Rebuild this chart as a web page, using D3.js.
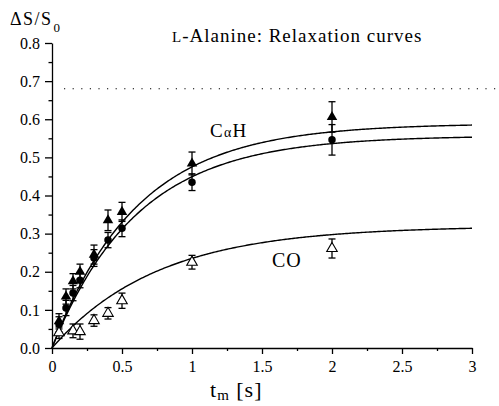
<!DOCTYPE html>
<html><head><meta charset="utf-8">
<script src="https://cdn.jsdelivr.net/npm/d3@7"></script>
<style>body{margin:0;background:#fff}svg{display:block}</style>
</head><body><svg id="c" width="499" height="406"></svg>
<script>
// Data
const times = [0.05, 0.1, 0.15, 0.2, 0.3, 0.4, 0.5, 1, 2];
const cahTri = [0.07, 0.135, 0.175, 0.2, 0.245, 0.335, 0.357, 0.484, 0.606];
const cahTriErr = [0.02, 0.02, 0.02, 0.02, 0.025, 0.027, 0.025, 0.03, 0.04];
const cahCirc = [0.062, 0.105, 0.144, 0.178, 0.236, 0.283, 0.314, 0.435, 0.546];
const cahCircErr = [0.02, 0.02, 0.02, 0.02, 0.022, 0.02, 0.022, 0.022, 0.04];
const coTimes = [0.05, 0.15, 0.2, 0.3, 0.4, 0.5, 1, 2];
const coTri = [0.04, 0.045, 0.043, 0.072, 0.091, 0.124, 0.225, 0.261];
const coTriErr = [0.015, 0.018, 0.02, 0.015, 0.015, 0.02, 0.018, 0.025];
// fitted curves y = A (1 - exp(-t/T))
const fitAmp = [0.589, 0.557, 0.32];
const fitT1 = [0.609, 0.609, 0.754];
const limitValue = 0.68;
const xTicks = [0, 0.5, 1, 1.5, 2, 2.5, 3];
const yTicks = [0, 0.1, 0.2, 0.3, 0.4, 0.5, 0.6, 0.7, 0.8];

const FONT = "'Liberation Serif', 'DejaVu Serif', serif";
const svg = d3.select("#c");
const x = d3.scaleLinear().domain([0, 3]).range([52, 472]);
const y = d3.scaleLinear().domain([0, 0.8]).range([348, 43]);

// dotted limit line
svg.append("line").attr("x1", 64).attr("x2", 497).attr("y1", y(limitValue)).attr("y2", y(limitValue))
  .attr("stroke", "#000").attr("stroke-width", 1.1).attr("stroke-dasharray", "1.2,7.4");

// axes
const fmtY = d3.format(".1f");
const fmtX = d => String(d);
const gx = svg.append("g").attr("transform", `translate(0,${y(0)})`)
  .call(d3.axisBottom(x).tickValues(xTicks).tickFormat(fmtX).tickSize(6).tickSizeOuter(0));
const gxm = svg.append("g").attr("transform", `translate(0,${y(0)})`)
  .call(d3.axisBottom(x).tickValues(d3.range(0.25, 3, 0.5)).tickFormat("").tickSize(3).tickSizeOuter(0));
gxm.select(".domain").remove();
const gy = svg.append("g").attr("transform", `translate(${x(0)},0)`)
  .call(d3.axisLeft(y).tickValues(yTicks).tickFormat(fmtY).tickSize(7).tickSizeOuter(0));
const gym = svg.append("g").attr("transform", `translate(${x(0)},0)`)
  .call(d3.axisLeft(y).tickValues(d3.range(0.05, 0.8, 0.1)).tickFormat("").tickSize(3.5).tickSizeOuter(0));
gym.select(".domain").remove();
[gx, gy, gxm, gym].forEach(g => {
  g.attr("font-family", null).attr("font-size", null);
  g.selectAll("path,line").attr("stroke", "#000").attr("stroke-width", 1.3);
  g.selectAll("text").style("font-family", FONT).style("font-size", "16px").attr("fill", "#000");
});
gx.selectAll("text").attr("dy", "0.95em");
gy.selectAll("text").attr("dx", "-2px");

// curves
const ts = d3.range(0, 3.0001, 0.01);
fitAmp.forEach((A, i) => {
  const T = fitT1[i];
  svg.append("path").datum(ts)
    .attr("d", d3.line().x(t => x(t)).y(t => y(A * (1 - Math.exp(-t / T)))))
    .attr("fill", "none").attr("stroke", "#000").attr("stroke-width", 1.4);
});

// error bars
function errBars(xs, ys, es) {
  xs.forEach((t, i) => {
    const g = svg.append("g").attr("stroke", "#000").attr("stroke-width", 1.3);
    const cx = x(t), y1 = y(ys[i] + es[i]), y2 = y(ys[i] - es[i]);
    g.append("line").attr("x1", cx).attr("x2", cx).attr("y1", y1).attr("y2", y2);
    g.append("line").attr("x1", cx - 3.5).attr("x2", cx + 3.5).attr("y1", y1).attr("y2", y1);
    g.append("line").attr("x1", cx - 3.5).attr("x2", cx + 3.5).attr("y1", y2).attr("y2", y2);
  });
}
errBars(times, cahTri, cahTriErr);
errBars(times, cahCirc, cahCircErr);
errBars(coTimes, coTri, coTriErr);

const tri = d3.symbol().type(d3.symbolTriangle).size(48);
const circ = d3.symbol().type(d3.symbolCircle).size(44);
svg.append("g").selectAll("path").data(times).join("path")
  .attr("d", tri).attr("transform", (t, i) => `translate(${x(t)},${y(cahTri[i])})`).attr("fill", "#000");
svg.append("g").selectAll("path").data(times).join("path")
  .attr("d", circ).attr("transform", (t, i) => `translate(${x(t)},${y(cahCirc[i])})`).attr("fill", "#000");
svg.append("g").selectAll("path").data(coTimes).join("path")
  .attr("d", tri).attr("transform", (t, i) => `translate(${x(t)},${y(coTri[i])})`)
  .attr("fill", "#fff").attr("stroke", "#000").attr("stroke-width", 1.1);

// labels
function label(px, py, size, ls) {
  return svg.append("text").attr("x", px).attr("y", py)
    .style("font-family", FONT).style("font-size", size + "px")
    .style("letter-spacing", (ls || 0) + "px").attr("fill", "#000");
}
const yl = label(10, 25, 18, 1.5);
yl.append("tspan").text("ΔS/S");
yl.append("tspan").style("font-size", "13px").attr("dx", 1).attr("dy", 7).text("0");

const title = label(172, 42, 19, 1);
title.append("tspan").style("font-size", "15px").text("L");
title.append("tspan").text("-Alanine: Relaxation curves");

const cah = label(210, 137, 19, 1.2);
cah.append("tspan").text("C");
cah.append("tspan").style("font-size", "14px").text("α");
cah.append("tspan").text("H");

label(272, 267, 20, 1).text("CO");

const xl = label(210, 397, 22, 1);
xl.append("tspan").text("t");
xl.append("tspan").style("font-size", "15px").attr("dy", 3).text("m");
xl.append("tspan").attr("dy", -3).text(" [s]");
</script></body></html>
